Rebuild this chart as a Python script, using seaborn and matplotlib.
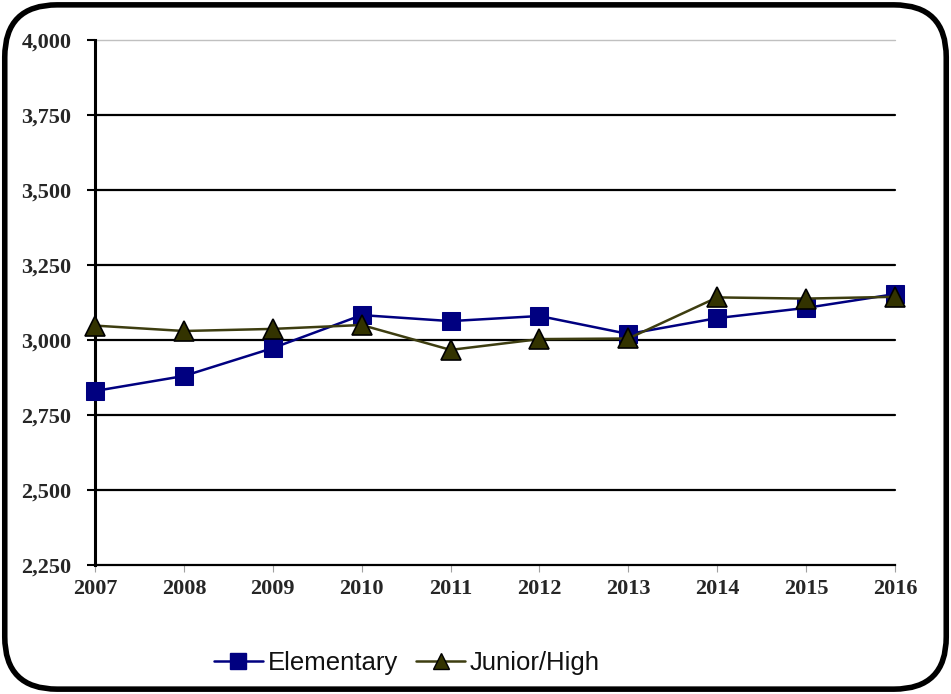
import matplotlib
matplotlib.use("Agg")
import matplotlib.pyplot as plt
from matplotlib.patches import FancyBboxPatch
from matplotlib.lines import Line2D
from matplotlib.ticker import FuncFormatter
import seaborn as sns
import pandas as pd

years = [2007, 2008, 2009, 2010, 2011, 2012, 2013, 2014, 2015, 2016]
elementary = [2830, 2880, 2973, 3083, 3063, 3080, 3020, 3073, 3107, 3153]
junior_high = [3048, 3030, 3037, 3050, 2967, 3003, 3005, 3142, 3138, 3144]
series_names = ["Elementary", "Junior/High"]
y_ticks = [2250, 2500, 2750, 3000, 3250, 3500, 3750, 4000]

df = pd.DataFrame({
    "year": years * 2,
    "value": elementary + junior_high,
    "series": [series_names[0]] * len(years) + [series_names[1]] * len(years),
})

sns.set_theme(style="white")
plt.rcParams["font.family"] = ["Liberation Serif", "DejaVu Serif"]

fig = plt.figure(figsize=(9.51, 6.94), dpi=100)
ax = fig.add_axes([95 / 951, 1 - 565 / 694, 800 / 951, 525 / 694])

# rounded frame around the whole chart
frame = FancyBboxPatch((0.005, 0.007), 0.990, 0.986,
                       boxstyle="round,pad=0,rounding_size=0.055",
                       transform=fig.transFigure, fill=False,
                       edgecolor="black", linewidth=4, zorder=0,
                       mutation_aspect=951 / 694)
fig.patches.append(frame)

# horizontal grid lines
for t in y_ticks[1:-1]:
    ax.axhline(t, color="black", linewidth=1.6, zorder=1)
ax.axhline(4000, color="#c0c0c0", linewidth=1.0, zorder=1)

palette = {"Elementary": "#000080", "Junior/High": "#3d3d10"}
sns.lineplot(data=df, x="year", y="value", hue="series", style="series",
             markers={"Elementary": "s", "Junior/High": "^"},
             dashes=False, palette=palette, ax=ax, linewidth=1.8,
             markersize=13, legend=False, zorder=3)

# marker faces and edges
for ln in ax.get_lines():
    if ln.get_marker() == "s":
        ln.set_markerfacecolor("#000080")
        ln.set_markeredgecolor("#000080")
        ln.set_markersize(12.5)
    elif ln.get_marker() == "^":
        ln.set_markerfacecolor("#333300")
        ln.set_markeredgecolor("black")
        ln.set_markeredgewidth(1.2)
        ln.set_markersize(14)
    ln.set_clip_on(False)

ax.set_xlim(2007, 2016)
ax.set_ylim(2250, 4000)
ax.set_xticks(years)
ax.set_yticks(y_ticks)
ax.yaxis.set_major_formatter(FuncFormatter(lambda v, p: f"{int(v):,}"))
ax.set_xlabel("")
ax.set_ylabel("")

for lbl in ax.get_xticklabels() + ax.get_yticklabels():
    lbl.set_fontweight("bold")
    lbl.set_fontsize(16)
    lbl.set_family(["Liberation Serif"])

ax.tick_params(axis="y", which="major", left=True, length=6, width=1.5,
               color="black", pad=11, direction="out")
ax.tick_params(axis="x", which="major", bottom=True, length=5, width=0.8,
               color="#a0a0a0", pad=5, direction="out")

for side in ["top", "right"]:
    ax.spines[side].set_visible(False)
ax.spines["left"].set_color("black")
ax.spines["left"].set_linewidth(2.2)
ax.spines["bottom"].set_color("black")
ax.spines["bottom"].set_linewidth(1.6)
ax.set_facecolor("white")

# legend below the plot
handles = [
    Line2D([], [], color="#000080", marker="s", markersize=12,
           markerfacecolor="#000080", markeredgecolor="#000080", linewidth=1.8),
    Line2D([], [], color="#3d3d10", marker="^", markersize=12,
           markerfacecolor="#333300", markeredgecolor="black", linewidth=1.8),
]
fig.legend(handles, series_names, loc="center", bbox_to_anchor=(407 / 951, 1 - 663 / 694),
           ncol=2, frameon=False, prop={"family": "Liberation Sans", "size": 18.5},
           handlelength=1.9, handletextpad=0.2, columnspacing=0.7,
           labelcolor="#111111")

fig.savefig("out.png", dpi=100)
